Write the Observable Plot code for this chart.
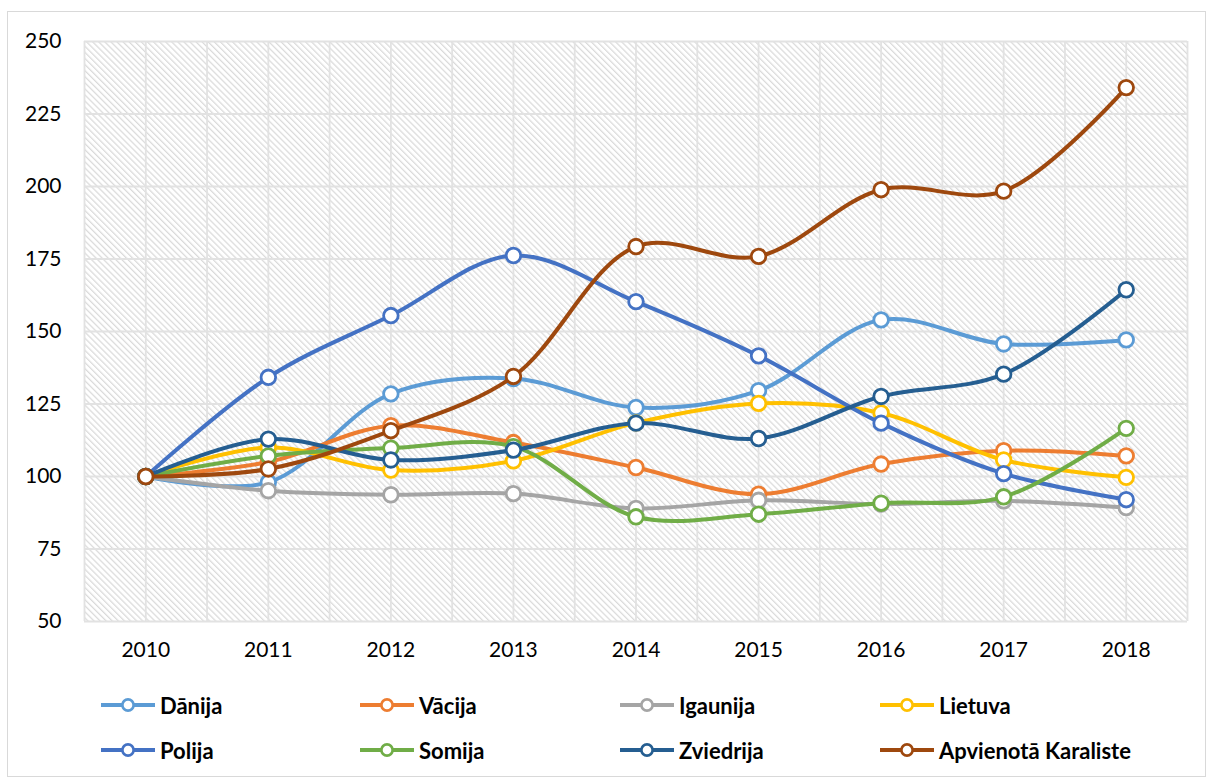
<!DOCTYPE html>
<html>
<head>
<meta charset="utf-8">
<script src="https://cdn.jsdelivr.net/npm/d3@7"></script>
<script src="https://cdn.jsdelivr.net/npm/@observablehq/plot@0.6"></script>
<style>
  html, body { margin: 0; padding: 0; background: #fff; }
  #wrap { position: relative; width: 1208px; height: 780px; font-family: Lato, "Open Sans", sans-serif; }
  #border { position: absolute; left: 7px; top: 11px; width: 1199px; height: 766px; border: 1px solid #d9d9d9; box-sizing: border-box; pointer-events: none; }
  #chart { position: absolute; left: 0; top: 0; }
  .lg { position: absolute; display: flex; align-items: center; font-weight: bold; font-size: 22px; color: #000; white-space: nowrap; }
  .lg svg { margin-right: 5px; }
</style>
</head>
<body>
<div id="wrap">
  <div id="chart"></div>
  <div id="legend"></div>
  <div id="border"></div>
</div>
<script>
const years = [2010, 2011, 2012, 2013, 2014, 2015, 2016, 2017, 2018];
const seriesNames = ["Dānija", "Vācija", "Igaunija", "Lietuva", "Polija", "Somija", "Zviedrija", "Apvienotā Karaliste"];
const seriesColors = ["#5B9BD5", "#ED7D31", "#A5A5A5", "#FFC000", "#4472C4", "#70AD47", "#255E91", "#9E480E"];
const danija    = [100, 98.0, 128.5, 133.8, 123.8, 129.6, 154.0, 145.7, 147.1];
const vacija    = [100, 105.0, 117.5, 111.7, 103.1, 93.9, 104.3, 108.9, 107.1];
const igaunija  = [100, 95.1, 93.7, 94.1, 89.0, 91.8, 90.5, 91.6, 89.3];
const lietuva   = [100, 110.0, 102.2, 105.4, 118.5, 125.2, 121.9, 105.7, 99.7];
const polija    = [100, 134.2, 155.5, 176.2, 160.3, 141.6, 118.4, 101.0, 92.0];
const somija    = [100, 107.1, 109.8, 110.3, 86.1, 87.0, 90.8, 93.0, 116.6];
const zviedrija = [100, 112.9, 105.7, 109.1, 118.4, 113.1, 127.6, 135.3, 164.4];
const apvienota = [100, 102.6, 115.8, 134.5, 179.3, 175.9, 198.9, 198.4, 234.1];
const yTicks = [50, 75, 100, 125, 150, 175, 200, 225, 250];

const allValues = [danija, vacija, igaunija, lietuva, polija, somija, zviedrija, apvienota];
const table = seriesNames.map((name, i) => years.map((year, j) => ({series: name, year, value: allValues[i][j]})));

const seriesMarks = table.flatMap((rows, i) => [
  Plot.line(rows, {x: "year", y: "value", stroke: seriesColors[i], strokeWidth: 4, curve: "catmull-rom"}),
  Plot.dot(rows, {x: "year", y: "value", r: 7.3, fill: "white", stroke: seriesColors[i], strokeWidth: 2.8})
]);

const halfSteps = d3.range(years[0] - 0.5, years[years.length - 1] + 0.51, 0.5);

const plot = Plot.plot({
  width: 1208,
  height: 680,
  marginLeft: 84,
  marginRight: 21,
  marginTop: 41,
  marginBottom: 59,
  style: {fontFamily: "Lato, 'Open Sans', sans-serif", fontSize: "21px", color: "#000", background: "transparent"},
  x: {type: "linear", domain: [years[0] - 0.5, years[years.length - 1] + 0.5]},
  y: {domain: [50, 250]},
  marks: [
    Plot.frame({fill: "url(#hatch)", stroke: null}),
    Plot.ruleX(halfSteps, {stroke: "#e2e2e2", strokeWidth: 1.8}),
    Plot.ruleY(yTicks, {stroke: "#e2e2e2", strokeWidth: 1.8}),
    Plot.axisY(yTicks, {tickSize: 0, tickPadding: 23, fontSize: 21, label: null}),
    Plot.axisX(years, {tickSize: 0, tickPadding: 21, fontSize: 21, label: null, tickFormat: d => String(d)}),
    ...seriesMarks
  ]
});

const svg = d3.select(plot);
const defs = svg.insert("defs", ":first-child");
const pat = defs.append("pattern")
  .attr("id", "hatch")
  .attr("patternUnits", "userSpaceOnUse")
  .attr("width", 4.3)
  .attr("height", 4.3)
  .attr("patternTransform", "rotate(-45)");
pat.append("rect").attr("width", 4.3).attr("height", 4.3).attr("fill", "#ffffff");
pat.append("line")
  .attr("x1", 1.5).attr("y1", -1).attr("x2", 1.5).attr("y2", 5.3)
  .attr("stroke", "#d9d9d9").attr("stroke-width", 1.2);

document.getElementById("chart").appendChild(plot);

// Legend
const legend = document.getElementById("legend");
const colLeft = [101, 360, 620, 880];
const rowTop = [705, 750];
seriesNames.forEach((name, i) => {
  const row = Math.floor(i / 4), col = i % 4;
  const item = document.createElement("div");
  item.className = "lg";
  item.style.left = colLeft[col] + "px";
  item.style.top = (rowTop[row] - 15) + "px";
  item.style.height = "30px";
  const c = seriesColors[i];
  item.innerHTML = `<svg width="54" height="16"><line x1="0" y1="8" x2="54" y2="8" stroke="${c}" stroke-width="4"/><circle cx="27" cy="8" r="5.6" fill="white" stroke="${c}" stroke-width="2.6"/></svg><span>${name}</span>`;
  legend.appendChild(item);
});
</script>
</body>
</html>
